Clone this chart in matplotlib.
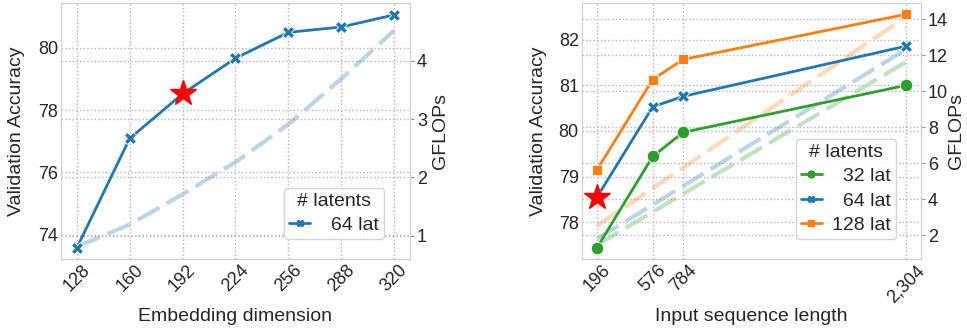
#!/usr/bin/env python3
"""
Accuracy / GFLOPs trade-off for embedding dimension and input sequence length
"""

import matplotlib
matplotlib.use('Agg')
import matplotlib.pyplot as plt
from matplotlib.lines import Line2D
from matplotlib.ticker import FuncFormatter
import seaborn as sns

# Data - left panel (64 latents, varying embedding dim)
EMB_DIMS = [128, 160, 192, 224, 256, 288, 320]
EMB_ACC = [73.58, 77.09, 78.52, 79.66, 80.49, 80.66, 81.05]
EMB_GFLOPS = [0.81, 1.19, 1.71, 2.26, 2.91, 3.69, 4.52]
EMB_STAR = (192, 78.55)

# Data - right panel (varying sequence length and # latents)
SEQ_LENS = [196, 576, 784, 2304]
LATENT_LABELS = ['32 lat', '64 lat', '128 lat']
SEQ_ACC = {
    '32 lat': [77.44, 79.44, 79.97, 81.00],
    '64 lat': [78.55, 80.53, 80.76, 81.86],
    '128 lat': [79.15, 81.13, 81.57, 82.56],
}
SEQ_GFLOPS = {
    '32 lat': [1.46, 3.29, 4.29, 11.6],
    '64 lat': [1.80, 3.69, 4.73, 12.3],
    '128 lat': [2.52, 4.61, 5.75, 14.1],
}
SEQ_STAR = (196, 78.55)

# Styles
COLORS = {'32 lat': '#2ca02c', '64 lat': '#1f77b4', '128 lat': '#ff7f0e'}
MARKERS = {'32 lat': 'o', '64 lat': 'X', '128 lat': 's'}
MSIZES = {'32 lat': 9, '64 lat': 9, '128 lat': 7}
FS = 14       # axis labels and legend
TICK_FS = 13
DASH = (0, (6, 2))

sns.set_style('whitegrid', {'grid.linestyle': ':', 'grid.color': '0.72',
                            'axes.edgecolor': '0.82'})
plt.rcParams['font.family'] = ['Liberation Sans', 'DejaVu Sans']


def style_axes(ax, twin, xlab_y, ylab_x, tlab_x):
    ax.set_zorder(twin.get_zorder() + 1)
    ax.patch.set_visible(False)
    for a in (ax, twin):
        a.grid(True, linestyle=':', color='0.72', linewidth=1)
        for s in a.spines.values():
            s.set_color('0.82')
    ax.tick_params(axis='both', labelsize=TICK_FS, length=0, pad=2)
    twin.tick_params(axis='y', labelsize=TICK_FS, length=3, color='0.6', pad=2)
    twin.grid(axis='x', visible=False)
    for lab in ax.get_xticklabels():
        lab.set_rotation(45)
    ax.xaxis.set_label_coords(0.5, xlab_y)
    ax.yaxis.set_label_coords(ylab_x, 0.5)
    twin.yaxis.set_label_coords(tlab_x, 0.5)


def add_legend(ax, labels):
    handles = [Line2D([], [], color=COLORS[l], marker=MARKERS[l], markersize=5,
                      linewidth=2) for l in labels]
    texts = ['\u2007' * (3 - len(l.split()[0])) + l for l in labels]
    leg = ax.legend(handles, texts, title='# latents', loc='lower right',
                    bbox_to_anchor=(0.925, 0.078), borderaxespad=0,
                    fontsize=FS, title_fontsize=FS, handlelength=1.1,
                    handletextpad=0.5, frameon=True, framealpha=0.9,
                    edgecolor='0.82', borderpad=0.25, labelspacing=0.35)
    leg.set_zorder(10)


fig = plt.figure(figsize=(9.67, 3.32), dpi=100)

# Left panel
ax1 = fig.add_axes([0.063, 0.22, 0.361, 0.771])
tw1 = ax1.twinx()
tw1.plot(EMB_DIMS, EMB_GFLOPS, color=COLORS['64 lat'], alpha=0.3, lw=3, linestyle=DASH)
ax1.plot(EMB_DIMS, EMB_ACC, color=COLORS['64 lat'], lw=2, marker=MARKERS['64 lat'],
         markersize=MSIZES['64 lat'], markeredgecolor='white', markeredgewidth=0.6)
ax1.plot(*EMB_STAR, marker='*', color='red', markersize=19, zorder=5)
ax1.set_xticks(EMB_DIMS)
ax1.set_ylim(73.23, 81.43)
ax1.set_yticks([74, 76, 78, 80])
tw1.set_ylim(0.6, 4.99)
tw1.set_yticks([1, 2, 3, 4])
ax1.set_xlabel('Embedding dimension', fontsize=FS)
ax1.set_ylabel('Validation Accuracy', fontsize=FS)
tw1.set_ylabel('GFLOPs', fontsize=FS)
style_axes(ax1, tw1, -0.19, -0.103, 1.063)
add_legend(ax1, ['64 lat'])

# Right panel
ax2 = fig.add_axes([0.6015, 0.22, 0.351, 0.771])
tw2 = ax2.twinx()
for lab in LATENT_LABELS:
    tw2.plot(SEQ_LENS, SEQ_GFLOPS[lab], color=COLORS[lab], alpha=0.3, lw=3, linestyle=DASH)
for lab in LATENT_LABELS:
    ax2.plot(SEQ_LENS, SEQ_ACC[lab], color=COLORS[lab], lw=2, marker=MARKERS[lab],
             markersize=MSIZES[lab], markeredgecolor='white', markeredgewidth=0.6)
ax2.plot(*SEQ_STAR, marker='*', color='red', markersize=19, zorder=5)
ax2.set_xticks(SEQ_LENS)
ax2.xaxis.set_major_formatter(FuncFormatter(lambda v, p: f'{int(v):,}'))
ax2.set_ylim(77.19, 82.81)
ax2.set_yticks([78, 79, 80, 81, 82])
tw2.set_ylim(0.68, 14.89)
tw2.set_yticks([2, 4, 6, 8, 10, 12, 14])
ax2.set_xlabel('Input sequence length', fontsize=FS)
ax2.set_ylabel('Validation Accuracy', fontsize=FS)
tw2.set_ylabel('GFLOPs', fontsize=FS)
style_axes(ax2, tw2, -0.19, -0.102, 1.08)
add_legend(ax2, LATENT_LABELS)

fig.savefig('out.png', dpi=100)
plt.close(fig)
